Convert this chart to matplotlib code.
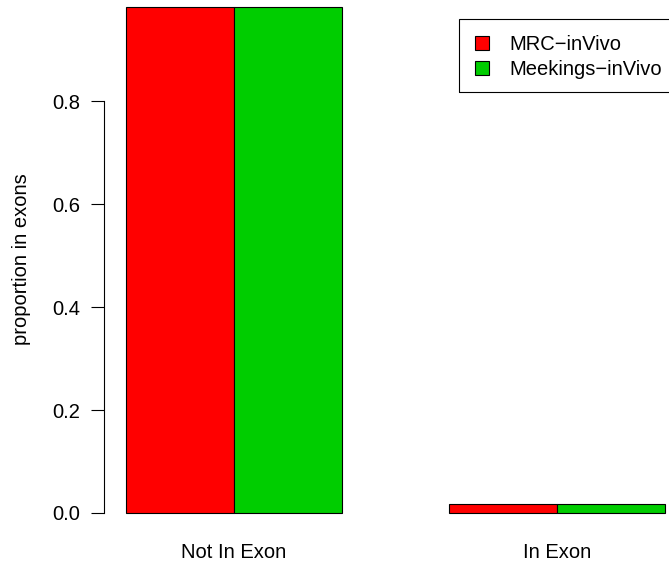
import numpy as np
import matplotlib.pyplot as plt
from matplotlib.patches import Rectangle

plt.rcParams['font.family'] = ['Liberation Sans', 'DejaVu Sans']

groups = ["Not In Exon", "In Exon"]
series = ["MRC\u2212inVivo", "Meekings\u2212inVivo"]
colors = ["#ff0000", "#00cd00"]
mrc = [0.983, 0.017]
meekings = [0.983, 0.017]

W, H = 669, 567
FS = 14.5
fig = plt.figure(figsize=(W / 100, H / 100), dpi=100)

# plot region in pixels (barplot-style 4% padding around the data range)
x0, x1 = 104.4, 686.6
y_top, y_bot = -13.3, 533.2
ax = fig.add_axes([x0 / W, 1 - y_bot / H, (x1 - x0) / W, (y_bot - y_top) / H])

# beside=TRUE layout: bars of width 1, one unit gap between groups
pos = np.array([1.0, 4.0])
vals = [mrc, meekings]
for i, (name, v, c) in enumerate(zip(series, vals, colors)):
    ax.bar(pos + i, v, width=1.0, align='edge', color=c, edgecolor='black',
           linewidth=0.8, label=name)

top = max(max(mrc), max(meekings))
ax.set_xlim(0.8, 6.2)
ax.set_ylim(-0.04 * top, 1.04 * top)

for s in ['top', 'right', 'bottom']:
    ax.spines[s].set_visible(False)
ax.spines['left'].set_bounds(0, 0.8)
ax.spines['left'].set_linewidth(0.8)

ax.set_yticks([0.0, 0.2, 0.4, 0.6, 0.8])
ax.set_yticklabels(["0.0", "0.2", "0.4", "0.6", "0.8"])
ax.tick_params(axis='y', length=9.4, width=0.8, pad=8, labelsize=FS)

ax.set_xticks(pos + 1)
ax.set_xticklabels(groups)
ax.tick_params(axis='x', length=0, pad=7, labelsize=FS)

fig.text(22 / W, 1 - 259 / H, "proportion in exons", rotation=90,
         ha='center', va='center', fontsize=FS)

# legend entries without frame; the box runs off the right edge
leg = ax.legend(loc='upper left', bbox_to_anchor=(459 / W, 1 - 19 / H),
                bbox_transform=fig.transFigure, borderaxespad=0,
                frameon=False, fontsize=FS, handlelength=0.7, handleheight=0.7,
                handletextpad=1.0, labelspacing=0.28, borderpad=0.8)
for h in leg.legend_handles:
    h.set_linewidth(0.8)
fig.patches.append(Rectangle((459 / W, 1 - 92 / H), 230 / W, 73 / H,
                             transform=fig.transFigure, fill=False,
                             edgecolor='black', linewidth=0.8))

fig.savefig("out.png", dpi=100)
